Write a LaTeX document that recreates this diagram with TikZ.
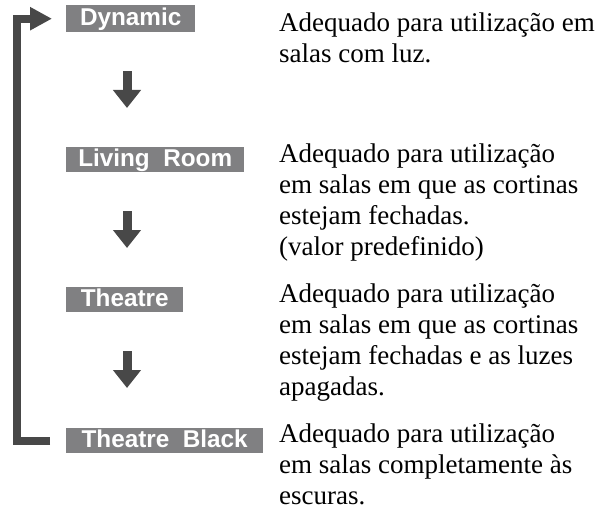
\documentclass[tikz,border=0pt]{standalone}
\usepackage{fontspec}
\setmainfont{Liberation Serif}
\newfontfamily\boxfont{Liberation Sans}
\usetikzlibrary{arrows.meta}
\definecolor{boxgray}{RGB}{128,128,130}
\definecolor{arrgray}{RGB}{72,72,72}
\begin{document}
\begin{tikzpicture}[x=1pt,y=-1pt,
  mode/.style={fill=boxgray, text=white, font=\boxfont\bfseries\fontsize{24.3}{26}\selectfont,
    anchor=north west, inner sep=0pt, minimum height=25pt, text height=19pt, text depth=6pt},
  desc/.style={anchor=base west, align=left, inner sep=0pt, font=\fontsize{27}{31}\selectfont},
  downarr/.style={draw=arrgray, line width=9pt, -{Triangle[width=27pt,length=18pt]}},
  looparr/.style={draw=arrgray, line width=8pt, -{Triangle[width=22pt,length=22pt]}}]
\useasboundingbox (0,0) rectangle (600,511);
\node[mode, minimum width=129pt, minimum height=27pt, text height=20pt, text depth=7pt] (dyn) at (66,5) {Dynamic};
\node[mode, minimum width=178pt] (liv) at (66,147) {Living\ \ Room};
\node[mode, minimum width=117pt] (the) at (66,287) {Theatre};
\node[mode, minimum width=197pt] (tbl) at (66,428) {Theatre\ \ Black};
% anchor base = baseline of the last line
\node[desc] (d1) at (279,63) {Adequado para utilização em\\salas com luz.};
\node[desc] (d2) at (279,255) {Adequado para utilização\\em salas em que as cortinas\\estejam fechadas.\\(valor predefinido)};
\node[desc] (d3) at (279,395) {Adequado para utilização\\em salas em que as cortinas\\estejam fechadas e as luzes\\apagadas.};
\node[desc] (d4) at (279,504) {Adequado para utilização\\em salas completamente às\\escuras.};
\draw[downarr] ([xshift=61pt,yshift=-39pt]dyn.south west) -- ([xshift=61pt,yshift=39pt]liv.north west);
\draw[downarr] ([xshift=61pt,yshift=-39pt]liv.south west) -- ([xshift=61pt,yshift=39pt]the.north west);
\draw[downarr] ([xshift=61pt,yshift=-39pt]the.south west) -- ([xshift=61pt,yshift=40pt]tbl.north west);
\draw[looparr] ([xshift=-16pt]tbl.west) -- ++(-33,0) |- ([xshift=-14pt]dyn.west);
\end{tikzpicture}
\end{document}
